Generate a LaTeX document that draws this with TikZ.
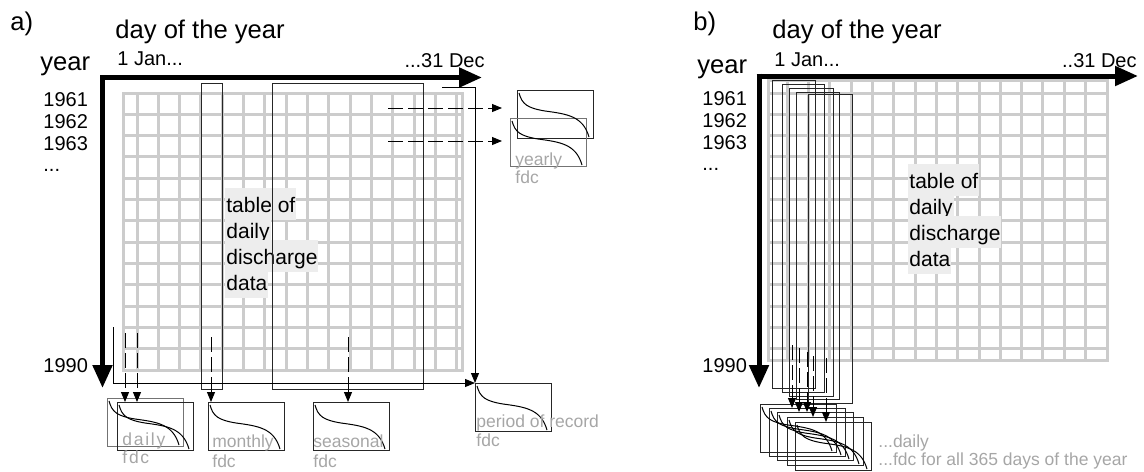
\documentclass[tikz,border=0pt]{standalone}
\usepackage{fontspec}
\setmainfont{Liberation Sans}
\newfontfamily\spacedfont[LetterSpace=10]{Liberation Sans}
\usetikzlibrary{arrows.meta,calc}

\begin{document}
\begin{tikzpicture}[
    x=0.5pt, y=-0.5pt,
    every node/.style={inner sep=0pt, anchor=base west},
    title/.style={font=\fontsize{12.8pt}{15pt}\selectfont},
    tick/.style={font=\fontsize{10pt}{12pt}\selectfont},
    note/.style={font=\fontsize{8.75pt}{10pt}\selectfont, text=black!35},
    spaced/.style={note, font=\spacedfont\fontsize{8.75pt}{10pt}\selectfont},
    tab/.style={font=\fontsize{10.5pt}{12pt}\selectfont, fill=black!7, inner xsep=0.5pt, inner ysep=0pt, text height=12pt, text depth=3.75pt},
    cell/.style={draw=black!20, line width=1.5pt},
    axis/.style={line width=2.5pt, -{Triangle[length=11.5pt, width=9.5pt]}},
    win/.style={draw=black!85, line width=0.5pt},
    arr/.style={-{Triangle[length=5pt, width=4pt]}, line width=0.5pt},
    dsh/.style={arr, dash pattern=on 7.5pt off 2.5pt},
    fdc/.style={draw=black!85, line width=0.5pt, minimum width=38pt, minimum height=24pt, anchor=north west},
    fdcg/.style={fdc, draw=black!55},
    curve/.style={black, line width=0.5pt}
]
    \useasboundingbox (0,0) rectangle (1144,471);

    % a) grid of daily values
    \draw[cell] (123,93) rectangle (462,370);
    \foreach \i in {0,...,15}
        \draw[cell] ({137+21.33*\i},93) -- ({137+21.33*\i},370);
    \foreach \i in {1,...,12}
        \draw[cell] (123,{93+21.31*\i}) -- (462,{93+21.31*\i});

    % b) grid of daily values
    \draw[cell] (768,80) rectangle (1107,360);
    \foreach \i in {1,...,15}
        \draw[cell] ({766+21.3*\i},80) -- ({766+21.3*\i},360);
    \foreach \i in {0,...,12}
        \draw[cell] (768,{93+21.3*\i}) -- (1107,{93+21.3*\i});

    % a) labels
    \node[title] (la) at (10,30) {a)};
    \node[title] (lday) at (115,38) {day of the year};
    \node[tick] (ljan) at (117,65) {1 Jan...};
    \node[tick, anchor=base east] (ldec) at (485,67) {...31 Dec};
    \node[title] (lyear) at (40,70) {year};
    \node[tick] (ly1) at (43,106) {1961};
    \node[tick] (ly2) at (43,128) {1962};
    \node[tick] (ly3) at (43,150) {1963};
    \node[tick] (ly4) at (43,171) {...};
    \node[tick] (ly5) at (43,372) {1990};
    \node[tab] (lt1) at (225,212) {table of};
    \node[tab] (lt2) at (225,238) {daily};
    \node[tab] (lt3) at (225,264) {discharge};
    \node[tab] (lt4) at (225,290) {data};

    % b) labels
    \node[title] (rb) at (693,30) {b)};
    \node[title] (rday) at (772,38) {day of the year};
    \node[tick] (rjan) at (774,66) {1 Jan...};
    \node[tick, anchor=base east] (rdec) at (1137,67) {..31 Dec};
    \node[title] (ryear) at (697,73) {year};
    \node[tick] (ry1) at (702,105) {1961};
    \node[tick] (ry2) at (702,127) {1962};
    \node[tick] (ry3) at (702,149) {1963};
    \node[tick] (ry4) at (702,170) {...};
    \node[tick] (ry5) at (702,372) {1990};
    \node[tab] (rt1) at (908,188) {table of};
    \node[tab] (rt2) at (908,214) {daily};
    \node[tab] (rt3) at (908,240) {discharge};
    \node[tab] (rt4) at (908,266) {data};

    % axes
    \draw[axis] (100,77.5) -- (482,77.5);
    \draw[axis] (102.5,75) -- (102.5,388);
    \draw[axis] (756.5,76) -- (1138,76);
    \draw[axis] (759,73.5) -- (759,388);

    % a) windows
    \draw[win] (201,83) rectangle (222,389);
    \draw[win] (272,83) rectangle (423,389);

    % a) duration curves
    \node[fdcg] (fdcda) at (107,398) {};
    \node[fdc] (fdcdb) at (117,402) {};
    \node[fdc] (fdcm) at (208,402) {};
    \node[fdc] (fdcs) at (313,402) {};
    \node[fdc] (fdcp) at (475,383) {};
    \node[fdc] (fdcya) at (517,90) {};
    \node[fdcg] (fdcyb) at (510,118) {};

    \coordinate (d1) at (125,333);
    \coordinate (d2) at (137,333);
    \coordinate (m1) at (211,337);
    \coordinate (s1) at (348,337);
    \coordinate (y1) at (388,108);
    \coordinate (y2) at (388,141);
    \coordinate (pr) at (442,87);
    \coordinate (pl) at (113,327);
    \draw[dsh] (d1) -- (d1 |- fdcdb.north);
    \draw[dsh] (d2) -- (d2 |- fdcdb.north);
    \draw[dsh] (m1) -- (m1 |- fdcm.north);
    \draw[dsh] (s1) -- (s1 |- fdcs.north);
    \draw[dsh, shorten >=7.5pt] (y1) -- (y1 -| fdcya.west);
    \draw[dsh, shorten >=4pt] (y2) -- (y2 -| fdcyb.west);
    \draw[arr] (pr) -| (fdcp.north west);
    \draw[arr] (pl) |- (fdcp.north west);

    % b) moving windows and daily curves
    \foreach \xa/\ya/\xb/\yb in {772/80/815/388, 782/84/824/392, 789/88/833/396, 796/92/839/399, 808/94/852/403}
        \draw[win] (\xa,\ya) rectangle (\xb,\yb);
    \foreach \n/\x/\y in {1/760/404, 2/769/408, 3/777/412, 4/787/417, 5/795/422}
        \node[fdc] (rb\n) at (\x,\y) {};
    \foreach \n/\x/\y/\b in {1/792/345/2, 2/799/348/3, 3/807/352/3, 4/813/356/4, 5/826/358/5} {
        \coordinate (rd\n) at (\x,\y);
        \draw[dsh] (rd\n) -- (rd\n |- rb\b.north);
    }

    % curve in every box
    \foreach \b in {fdcda,fdcdb,fdcm,fdcs,fdcp,fdcya,fdcyb,rb1,rb2,rb3,rb4,rb5}
        \draw[curve] ($(\b.north west)+(2,3)$) .. controls ($(\b.north west)+(5,14)$) and ($(\b.north west)+(10,18)$) .. ($(\b.north west)+(28,21)$)
            .. controls ($(\b.north west)+(50,24)$) and ($(\b.north west)+(66,26)$) .. ($(\b.north west)+(72,47)$);

    \node[spaced] (nd1) at (122,445) {daily};
    \node[spaced] (nd2) at (122,463) {fdc};
    \node[note] (nm1) at (212,447) {monthly};
    \node[note] (nm2) at (212,467) {fdc};
    \node[note] (ns1) at (313,447) {seasonal};
    \node[note] (ns2) at (313,467) {fdc};
    \node[note] (np1) at (476,427) {period of record};
    \node[note] (np2) at (476,446) {fdc};
    \node[note] (ny1) at (515,165) {yearly};
    \node[note] (ny2) at (515,183) {fdc};
    \node[note] (nr1) at (878,447) {...daily};
    \node[note] (nr2) at (878,465) {...fdc for all 365 days of the year};
\end{tikzpicture}
\end{document}
